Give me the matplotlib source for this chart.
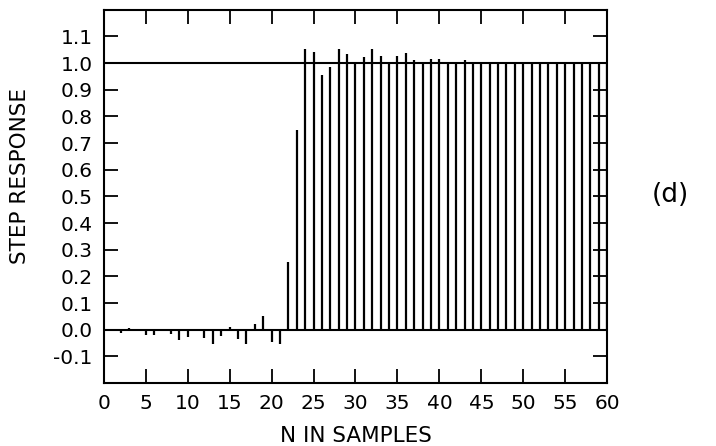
import numpy as np
import matplotlib
matplotlib.use("Agg")
import matplotlib.pyplot as plt

plt.rcParams["font.family"] = ["DejaVu Sans"]

n = np.arange(0, 61)
step = [0.0, 0.0, -0.012, 0.005, 0.003, -0.02, -0.019, 0.0, -0.016, -0.04,
        -0.028, 0.0, -0.03, -0.054, -0.022, 0.01, -0.035, -0.052, 0.022, 0.052,
        -0.044, -0.052, 0.256, 0.749, 1.052, 1.042, 0.954, 0.984, 1.052, 1.034,
        0.996, 1.024, 1.052, 1.028, 1.005, 1.025, 1.038, 1.013, 0.996, 1.017,
        1.017, 1.0, 1.0, 1.01, 1.006, 1.0, 1.0, 1.0, 1.0, 1.0,
        1.0, 1.0, 1.0, 1.0, 1.0, 1.0, 1.0, 1.0, 1.0, 1.0, 1.0]
xticks = list(range(0, 61, 5))
yticks = [round(-0.1 + 0.1 * i, 1) for i in range(13)]

fig = plt.figure(figsize=(7.16, 4.46), dpi=100)
ax = fig.add_axes([0.145, 0.141, 0.703, 0.837])

ax.vlines(n, 0, step, colors="black", linewidth=1.6)
ax.axhline(0, color="black", linewidth=1.5)
ax.axhline(1.0, color="black", linewidth=1.5)

ax.set_xlim(0, 60)
ax.set_ylim(-0.2, 1.2)
ax.set_xticks(xticks)
ax.set_yticks(yticks)
ax.set_yticklabels([f"{v:.1f}" for v in yticks])
ax.tick_params(direction="in", top=True, right=True, length=10, width=1.3,
               labelsize=14.5, pad=8)
for s in ax.spines.values():
    s.set_linewidth(1.5)

ax.set_xlabel("N IN SAMPLES", fontsize=15.5, labelpad=9)
ax.set_ylabel("STEP RESPONSE", fontsize=15.5)
ax.yaxis.set_label_coords(-0.146, 0.555)
fig.text(0.936, 0.563, "(d)", fontsize=19, ha="center", va="center")

fig.savefig("out.png", dpi=100)
